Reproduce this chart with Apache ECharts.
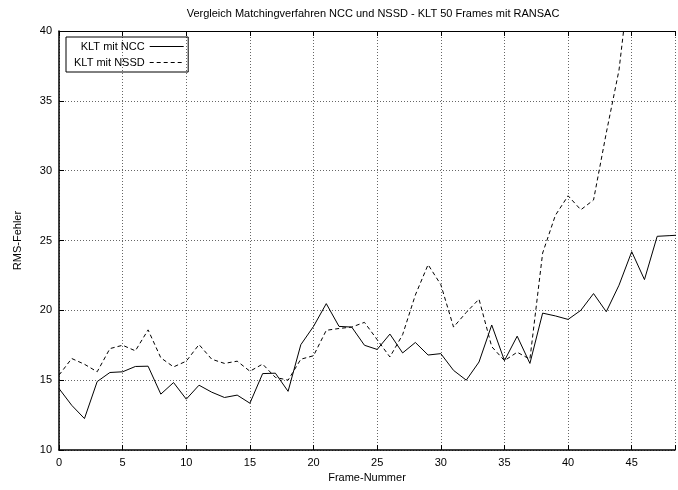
<!DOCTYPE html>
<html>
<head>
<meta charset="utf-8">
<script src="https://cdn.jsdelivr.net/npm/echarts@6/dist/echarts.min.js"></script>
<style>
  html, body { margin: 0; padding: 0; background: #fff; }
  #chart { width: 678px; height: 490px; }
</style>
</head>
<body>
<div id="chart"></div>
<script>
// RMS-Fehler pro Frame
const frames = [];
for (let i = 0; i < 50; i++) frames.push(i);

const ncc = [14.4, 13.2, 12.25, 14.9, 15.55, 15.6, 15.98, 16.0, 14.0, 14.83,
    13.64, 14.64, 14.14, 13.76, 13.93, 13.35, 15.47, 15.5, 14.2, 17.54,
    18.85, 20.48, 18.85, 18.8, 17.5, 17.2, 18.3, 16.95, 17.7, 16.8,
    16.9, 15.7, 15.0, 16.3, 18.95, 16.4, 18.15, 16.2, 19.8, 19.6,
    19.35, 20.0, 21.2, 19.9, 21.8, 24.2, 22.2, 25.3, 25.35, 25.4];

const nssd = [15.36, 16.55, 16.14, 15.6, 17.26, 17.5, 17.1, 18.6, 16.6, 15.95,
    16.36, 17.55, 16.5, 16.2, 16.36, 15.64, 16.15, 15.2, 15.0, 16.5,
    16.75, 18.57, 18.7, 18.8, 19.14, 17.9, 16.66, 18.26, 21.1, 23.27,
    21.84, 18.8, 19.85, 20.8, 17.4, 16.4, 17.0, 16.5, 24.1, 26.8,
    28.2, 27.2, 27.9, 32.7, 37.2, 45];

const seriesNames = ['KLT mit NCC', 'KLT mit NSSD'];

const font = 'Liberation Sans, Arial, sans-serif';

function pairs(vals) {
    return vals.map((v, i) => [frames[i], v]);
}

let app = echarts.init(document.getElementById('chart'));

let option = {
    animation: false,
    backgroundColor: '#fff',
    textStyle: {fontFamily: font},
    title: {
        text: 'Vergleich Matchingverfahren NCC und NSSD - KLT 50 Frames mit RANSAC',
        left: 368,
        top: 3,
        textAlign: 'center',
        textStyle: {fontSize: 11, fontWeight: 'normal', color: '#000', fontFamily: font}
    },
    legend: {
        orient: 'vertical',
        left: 66,
        top: 37,
        align: 'right',
        itemWidth: 34,
        itemHeight: 10,
        itemGap: 5,
        padding: [4, 4, 4, 8],
        borderColor: '#000',
        borderWidth: 1,
        borderRadius: 0,
        data: seriesNames,
        itemStyle: {color: 'rgba(0,0,0,0)', borderWidth: 0},
        lineStyle: {width: 1, color: '#000'},
        textStyle: {fontSize: 11, color: '#000', fontFamily: font, width: 78, align: 'right'}
    },
    grid: {left: 59, right: 0, top: 31, bottom: 40},
    xAxis: [{
        type: 'value',
        min: 0,
        max: 48.4,
        interval: 5,
        name: 'Frame-Nummer',
        nameLocation: 'middle',
        nameGap: 22,
        nameTextStyle: {fontSize: 11, color: '#000'},
        axisLine: {lineStyle: {color: '#000', width: 1.5}},
        axisTick: {inside: true, length: 5, lineStyle: {color: '#000'}},
        axisLabel: {
            fontSize: 11, color: '#000', margin: 7,
            formatter: v => (v % 5 === 0 ? v : '')
        },
        splitLine: {show: true, lineStyle: {type: [1, 2], color: '#666', width: 1}}
    }, {
        type: 'value',
        position: 'top',
        min: 0,
        max: 48.4,
        interval: 5,
        axisLine: {lineStyle: {color: '#000', width: 1}},
        axisTick: {inside: true, length: 5, lineStyle: {color: '#000'}},
        axisLabel: {show: false},
        splitLine: {show: false}
    }],
    yAxis: {
        type: 'value',
        min: 10,
        max: 40,
        interval: 5,
        name: 'RMS-Fehler',
        nameLocation: 'middle',
        nameGap: 36,
        nameTextStyle: {fontSize: 11, color: '#000'},
        axisLine: {show: true, lineStyle: {color: '#000', width: 1.5}},
        axisTick: {show: true, inside: true, length: 5, lineStyle: {color: '#000'}},
        axisLabel: {fontSize: 11, color: '#000', margin: 7},
        splitLine: {show: true, lineStyle: {type: [1, 2], color: '#666', width: 1}}
    },
    series: [{
        name: seriesNames[0],
        type: 'line',
        symbol: 'none',
        data: pairs(ncc),
        lineStyle: {color: '#000', width: 1},
        itemStyle: {color: '#000'}
    }, {
        name: seriesNames[1],
        type: 'line',
        symbol: 'none',
        data: pairs(nssd),
        lineStyle: {color: '#000', width: 1, type: [4, 3]},
        itemStyle: {color: '#000'}
    }]
};

app.setOption(option);
</script>
</body>
</html>
